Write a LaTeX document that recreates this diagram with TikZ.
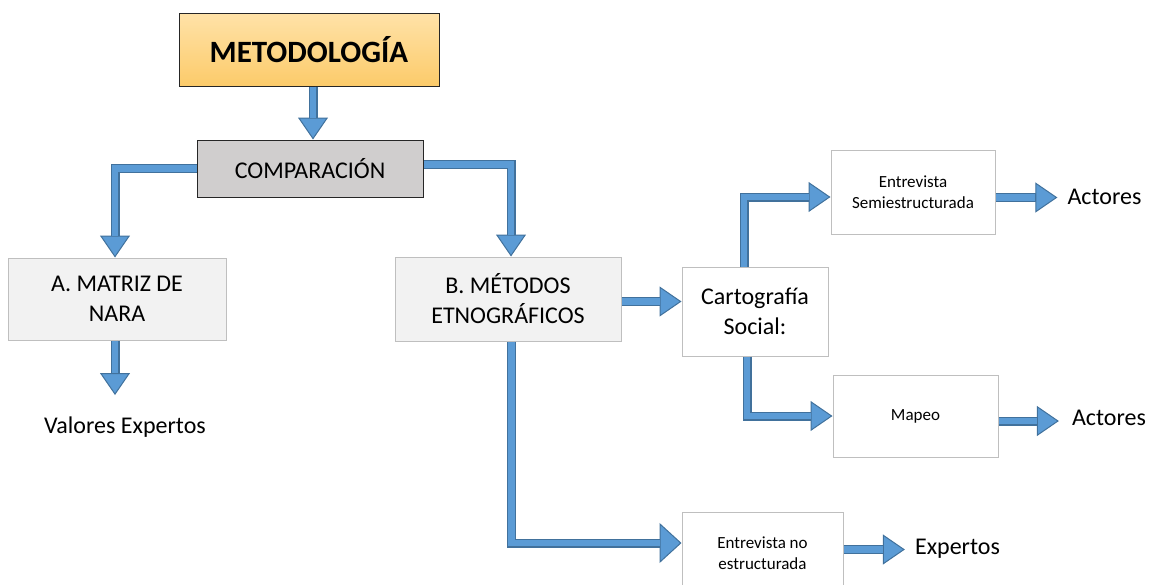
\documentclass[tikz,border=0pt]{standalone}
\usepackage{fontspec}
\setmainfont{Carlito}
\usetikzlibrary{arrows.meta}
\definecolor{afill}{HTML}{5B9BD5}
\definecolor{abord}{HTML}{41719C}
\definecolor{metotop}{HTML}{FFE2A8}
\definecolor{metobot}{HTML}{FCCB6A}
\definecolor{compfill}{HTML}{D0CECE}
\definecolor{lightfill}{HTML}{F2F2F2}
\definecolor{lightbord}{HTML}{BFBFBF}
\definecolor{darkbord}{HTML}{262626}
\tikzset{
  big/.style={font=\fontsize{24}{30}\selectfont, align=center},
  small/.style={font=\fontsize{17}{21}\selectfont, align=center},
  graybox/.style={draw=lightbord, fill=lightfill, line width=1pt, inner sep=0pt},
  whitebox/.style={draw=lightbord, fill=white, line width=1pt, inner sep=0pt},
  lbl/.style={big, inner ysep=0pt},
  innerarr/.style={line width=6.5pt, draw=afill, line join=miter, shorten >=22pt}
}
\newcommand{\blockarr}[2][30pt]{%
  \draw[line width=9pt, draw=abord, line join=miter,
        -{Triangle[width=#1,length=22pt,line width=1pt,fill=afill]}] #2;
  \draw[innerarr] #2;}
\begin{document}
\begin{tikzpicture}[x=1pt,y=-1pt]
\useasboundingbox (0,0) rectangle (1158,584);
\clip (0,0) rectangle (1158,584);
% boxes
\node[draw=darkbord, line width=1pt, top color=metotop, bottom color=metobot,
      minimum width=260pt, minimum height=73pt, inner sep=0pt,
      font=\fontsize{31}{36}\selectfont\bfseries] (meto) at (309,49.5) {METODOLOGÍA};
\node[draw=darkbord, line width=1pt, fill=compfill, minimum width=226pt,
      minimum height=57pt, inner sep=0pt, big] (comp) at (310,168.5) {COMPARACIÓN};
\node[graybox, big, minimum width=218pt, minimum height=82pt] (matriz) at (117,299) {A. MATRIZ DE\\NARA};
\node[graybox, big, minimum width=226pt, minimum height=84pt] (metb) at (508,299) {B. MÉTODOS\\ETNOGRÁFICOS};
\node[whitebox, big, minimum width=146pt, minimum height=89pt] (carto) at (755,311.5) {Cartografía\\Social:};
\node[whitebox, small, minimum width=164pt, minimum height=84pt] (semi) at (913,192) {Entrevista\\Semiestructurada};
\node[whitebox, small, minimum width=165pt, minimum height=82pt] (mapeo) at (915.5,416) {Mapeo};
\node[whitebox, small, minimum width=161pt, minimum height=82pt] (entno) at (762.5,553) {Entrevista no\\estructurada};
% plain labels
\node[lbl, inner xsep=0pt] (valores) at (125,427) {Valores Expertos};
\node[lbl, inner xsep=10pt] (act1) at (1104.5,197) {Actores};
\node[lbl, inner xsep=13pt] (act2) at (1109,418) {Actores};
\node[lbl, inner xsep=10pt] (expt) at (957.5,549) {Expertos};
\coordinate (vtip) at (115,395);
% arrows
\blockarr{([xshift=4pt]meto.south) -- ([xshift=4pt]meto.south |- comp.north)}
\blockarr{(comp.west) -| ([xshift=-2pt]matriz.north)}
\blockarr{([yshift=4pt]comp.east) -| ([xshift=3pt]metb.north)}
\blockarr{([yshift=-2.5pt]metb.east) -- ([yshift=-2.5pt]metb.east -| carto.west)}
\blockarr{([xshift=-11pt]carto.north) |- ([yshift=-5pt]semi.west)}
\blockarr{([xshift=-8pt]carto.south) |- (mapeo.west)}
\blockarr[40pt]{([xshift=3.5pt]metb.south) |- ([yshift=10pt]entno.west)}
\blockarr{([yshift=-5.5pt]semi.east) -- ([yshift=-5.5pt]semi.east -| act1.west)}
\blockarr{([yshift=-5pt]mapeo.east) -- ([yshift=-5pt]mapeo.east -| act2.west)}
\blockarr{([yshift=3.5pt]entno.east) -- ([yshift=3.5pt]entno.east -| expt.west)}
\blockarr{([xshift=-2pt]matriz.south) -- ([xshift=-2pt]matriz.south |- vtip)}
\end{tikzpicture}
\end{document}
